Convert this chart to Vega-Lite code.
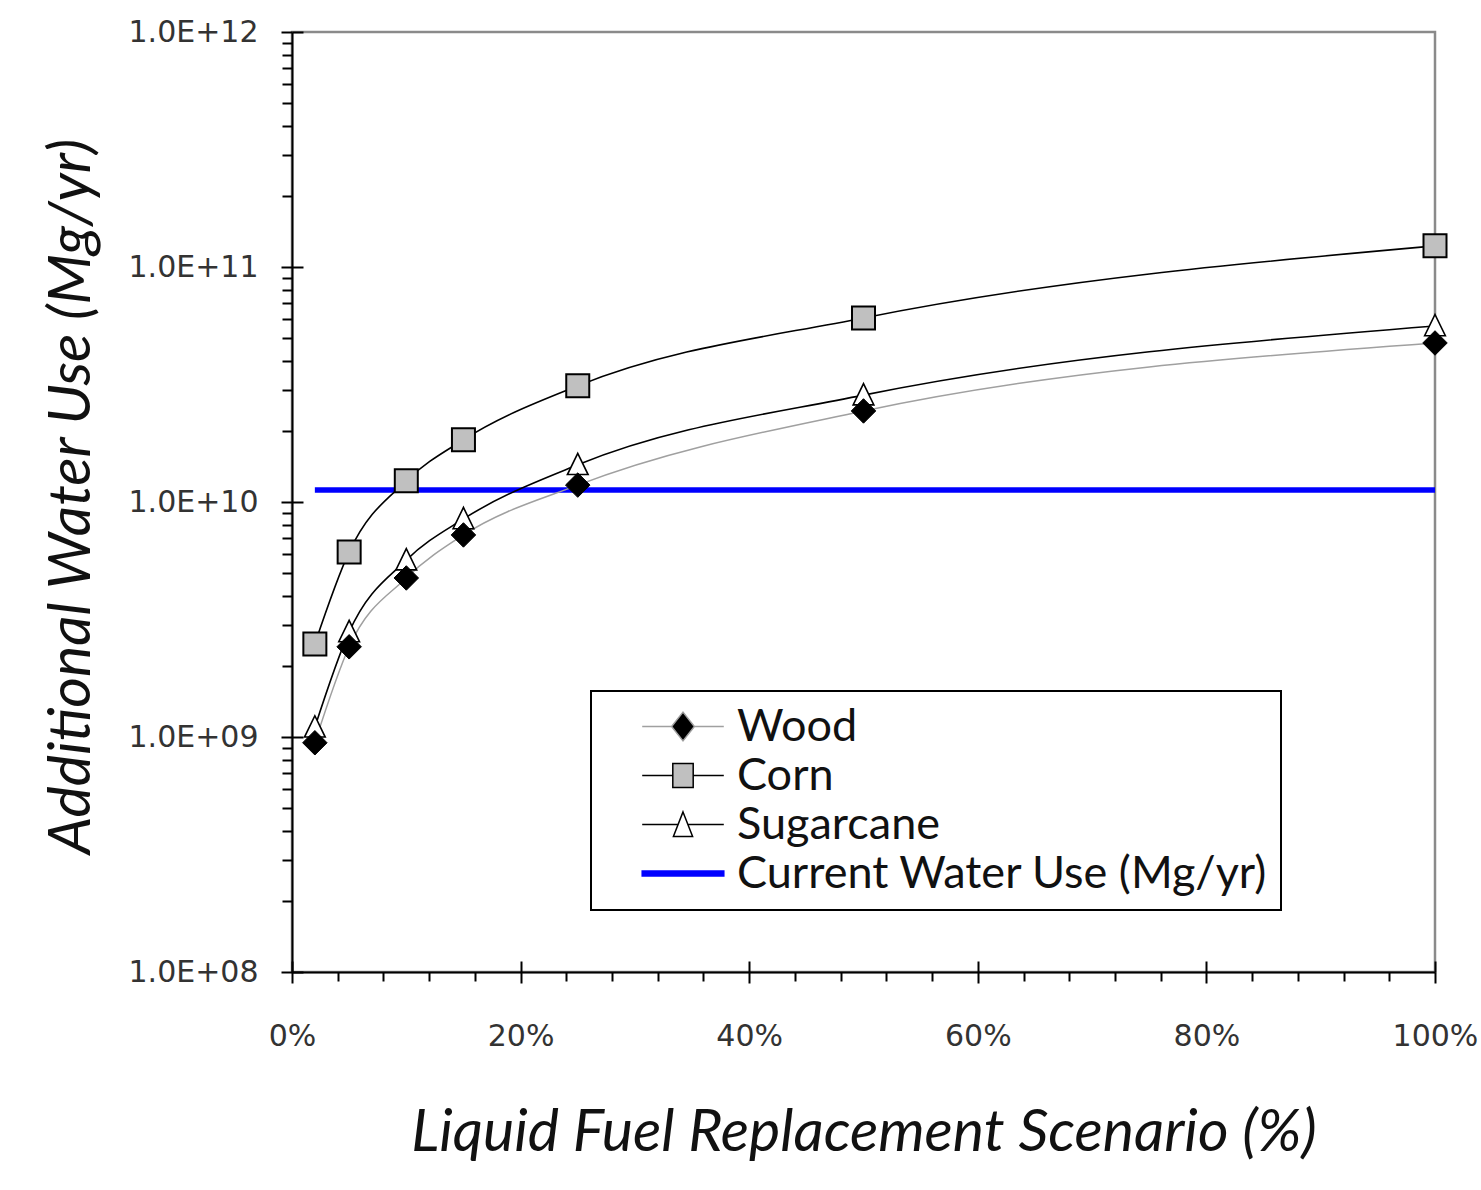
{
  "$schema": "https://vega.github.io/schema/vega-lite/v6.json",
  "width": 1143,
  "height": 940,
  "autosize": {"type": "none"},
  "padding": {"left": 292, "top": 32, "right": 46, "bottom": 218},
  "background": "white",
  "config": {
    "view": {"stroke": "#8a8a8a", "strokeWidth": 2.5},
    "axis": {"grid": false},
    "legend": {
      "orient": "none",
      "legendX": 299,
      "legendY": 659,
      "padding": 13,
      "strokeColor": "#000000",
      "strokeWidth": 2,
      "fillColor": "#ffffff",
      "symbolSize": 576,
      "symbolStrokeWidth": 1.5,
      "symbolOffset": 56.5,
      "labelOffset": 31.5,
      "rowPadding": 3,
      "labelFont": "Lato",
      "labelFontSize": 45,
      "labelColor": "#111111",
      "labelLimit": 1000
    }
  },
  "datasets": {
    "rows": [
      {"series": "Current Water Use (Mg/yr)", "x": 0.02, "y": 1.125e10},
      {"series": "Current Water Use (Mg/yr)", "x": 1.0, "y": 1.125e10},
      {"series": "Sugarcane", "x": 0.02, "y": 1.1e9},
      {"series": "Sugarcane", "x": 0.05, "y": 2.8e9},
      {"series": "Sugarcane", "x": 0.10, "y": 5.66e9},
      {"series": "Sugarcane", "x": 0.15, "y": 8.47e9},
      {"series": "Sugarcane", "x": 0.25, "y": 1.44e10},
      {"series": "Sugarcane", "x": 0.50, "y": 2.85e10},
      {"series": "Sugarcane", "x": 1.0, "y": 5.61e10},
      {"series": "Corn", "x": 0.02, "y": 2.49e9},
      {"series": "Corn", "x": 0.05, "y": 6.13e9},
      {"series": "Corn", "x": 0.10, "y": 1.23e10},
      {"series": "Corn", "x": 0.15, "y": 1.84e10},
      {"series": "Corn", "x": 0.25, "y": 3.12e10},
      {"series": "Corn", "x": 0.50, "y": 6.07e10},
      {"series": "Corn", "x": 1.0, "y": 1.23e11},
      {"series": "Wood", "x": 0.02, "y": 9.45e8},
      {"series": "Wood", "x": 0.05, "y": 2.42e9},
      {"series": "Wood", "x": 0.10, "y": 4.75e9},
      {"series": "Wood", "x": 0.15, "y": 7.24e9},
      {"series": "Wood", "x": 0.25, "y": 1.18e10},
      {"series": "Wood", "x": 0.50, "y": 2.44e10},
      {"series": "Wood", "x": 1.0, "y": 4.75e10}
    ]
  },
  "data": {"name": "rows"},
  "resolve": {"axis": {"x": "independent", "y": "independent"}},
  "layer": [
    {
      "transform": [{"filter": "datum.series === 'Current Water Use (Mg/yr)'"}],
      "mark": {"type": "line", "color": "#0000ff", "strokeWidth": 5.5},
      "encoding": {
        "x": {
          "field": "x", "type": "quantitative",
          "scale": {"domain": [0, 1], "nice": false, "zero": false},
          "axis": {
            "orient": "bottom",
            "values": [0, 0.2, 0.4, 0.6, 0.8, 1],
            "format": ".0%",
            "domain": true, "domainColor": "#000000", "domainWidth": 2,
            "ticks": true, "tickSize": 11, "tickWidth": 2, "tickColor": "#000000",
            "labelFont": "DejaVu Sans", "labelFontSize": 30, "labelColor": "#333333",
            "labelPadding": 38, "labelFlush": false, "labelOverlap": false,
            "title": "Liquid Fuel Replacement Scenario (%)",
            "titleFont": "Lato", "titleFontSize": 59, "titleFontStyle": "italic",
            "titleFontWeight": "normal", "titleColor": "#111111",
            "titleY": 178, "titleBaseline": "alphabetic"
          }
        },
        "y": {
          "field": "y", "type": "quantitative",
          "scale": {"type": "log", "domain": [1e8, 1e12], "nice": false},
          "axis": {
            "orient": "left",
            "values": [1e8, 1e9, 1e10, 1e11, 1e12],
            "labelExpr": "'1.0E+' + (datum.value < 1e10 ? '0' : '') + format(log(datum.value) / LN10, '.0f')",
            "domain": true, "domainColor": "#000000", "domainWidth": 2,
            "ticks": true, "tickSize": 11, "tickWidth": 2, "tickColor": "#000000",
            "labelFont": "DejaVu Sans", "labelFontSize": 30, "labelColor": "#333333",
            "labelPadding": 23, "labelFlush": false, "labelOverlap": false,
            "title": "Additional Water Use (Mg/yr)",
            "titleFont": "Lato", "titleFontSize": 59, "titleFontStyle": "italic",
            "titleFontWeight": "normal", "titleColor": "#111111",
            "titleAngle": -90, "titleX": -203, "titleY": 464,
            "titleAlign": "center", "titleBaseline": "alphabetic"
          }
        }
      }
    },
    {
      "transform": [{"filter": "datum.series === 'Wood'"}],
      "mark": {"type": "line", "color": "#a0a0a0", "strokeWidth": 1.5, "interpolate": "monotone"},
      "encoding": {
        "x": {
          "field": "x", "type": "quantitative",
          "scale": {"domain": [0, 1], "nice": false, "zero": false},
          "axis": {
            "orient": "bottom",
            "values": [0.04, 0.08, 0.12, 0.16, 0.24, 0.28, 0.32, 0.36, 0.44, 0.48, 0.52, 0.56, 0.64, 0.68, 0.72, 0.76, 0.84, 0.88, 0.92, 0.96],
            "domain": false, "labels": false, "title": null,
            "ticks": true, "tickSize": 9, "tickWidth": 2, "tickColor": "#000000"
          }
        },
        "y": {
          "field": "y", "type": "quantitative",
          "scale": {"type": "log", "domain": [1e8, 1e12], "nice": false},
          "axis": {
            "orient": "left",
            "values": [2e8, 3e8, 4e8, 5e8, 6e8, 7e8, 8e8, 9e8, 2e9, 3e9, 4e9, 5e9, 6e9, 7e9, 8e9, 9e9, 2e10, 3e10, 4e10, 5e10, 6e10, 7e10, 8e10, 9e10, 2e11, 3e11, 4e11, 5e11, 6e11, 7e11, 8e11, 9e11],
            "domain": false, "labels": false, "title": null,
            "ticks": true, "tickSize": 10, "tickWidth": 2, "tickColor": "#000000"
          }
        }
      }
    },
    {
      "transform": [{"filter": "datum.series === 'Corn' || datum.series === 'Sugarcane'"}],
      "mark": {"type": "line", "color": "#000000", "strokeWidth": 1.6, "interpolate": "monotone"},
      "encoding": {
        "detail": {"field": "series", "type": "nominal"},
        "x": {
          "field": "x", "type": "quantitative",
          "scale": {"domain": [0, 1], "nice": false, "zero": false},
          "axis": {
            "orient": "top", "offset": -940,
            "values": [0, 0.2, 0.4, 0.6, 0.8, 1],
            "domain": false, "labels": false, "title": null,
            "ticks": true, "tickSize": 11, "tickWidth": 2, "tickColor": "#000000"
          }
        },
        "y": {
          "field": "y", "type": "quantitative",
          "scale": {"type": "log", "domain": [1e8, 1e12], "nice": false},
          "axis": {
            "orient": "right", "offset": -1143,
            "values": [1e8, 1e9, 1e10, 1e11, 1e12],
            "domain": false, "labels": false, "title": null,
            "ticks": true, "tickSize": 11, "tickWidth": 2, "tickColor": "#000000"
          }
        }
      }
    },
    {
      "transform": [{"filter": "datum.series === 'Sugarcane'"}],
      "mark": {"type": "point", "shape": "M0,-1L0.9,0.85L-0.9,0.85Z", "size": 529, "filled": true, "fill": "#ffffff", "stroke": "#000000", "strokeWidth": 1.6, "opacity": 1},
      "encoding": {
        "x": {"field": "x", "type": "quantitative", "scale": {"domain": [0, 1], "nice": false, "zero": false}, "axis": null},
        "y": {"field": "y", "type": "quantitative", "scale": {"type": "log", "domain": [1e8, 1e12], "nice": false}, "axis": null}
      }
    },
    {
      "transform": [{"filter": "datum.series === 'Corn'"}],
      "mark": {"type": "point", "shape": "square", "size": 529, "filled": true, "fill": "#c0c0c0", "stroke": "#000000", "strokeWidth": 2, "opacity": 1},
      "encoding": {
        "x": {"field": "x", "type": "quantitative", "scale": {"domain": [0, 1], "nice": false, "zero": false}, "axis": null},
        "y": {"field": "y", "type": "quantitative", "scale": {"type": "log", "domain": [1e8, 1e12], "nice": false}, "axis": null}
      }
    },
    {
      "transform": [{"filter": "datum.series === 'Wood'"}],
      "mark": {"type": "point", "shape": "diamond", "size": 600, "filled": true, "fill": "#000000", "stroke": "#000000", "strokeWidth": 1, "opacity": 1},
      "encoding": {
        "x": {"field": "x", "type": "quantitative", "scale": {"domain": [0, 1], "nice": false, "zero": false}, "axis": null},
        "y": {"field": "y", "type": "quantitative", "scale": {"type": "log", "domain": [1e8, 1e12], "nice": false}, "axis": null}
      }
    },
    {
      "transform": [{"filter": "datum.x > 5"}],
      "mark": {"type": "point", "filled": true, "opacity": 1},
      "encoding": {
        "shape": {
          "field": "series", "type": "nominal",
          "scale": {
            "domain": ["Wood", "Corn", "Sugarcane", "Current Water Use (Mg/yr)"],
            "range": [
              "M-3.4,0H-0.95M0.95,0H3.4M0,-1.2L0.95,0L0,1.2L-0.95,0Z",
              "M-3.4,0H-0.85M0.85,0H3.4M-0.85,-1H0.85V1H-0.85Z",
              "M-3.4,0H-0.42M0.42,0H3.4M0,-1.05L0.8,1L-0.8,1Z",
              "M-3.4,-0.2H3.4V0.2H-3.4Z"
            ]
          },
          "legend": {"title": null}
        },
        "fill": {
          "field": "series", "type": "nominal",
          "scale": {
            "domain": ["Wood", "Corn", "Sugarcane", "Current Water Use (Mg/yr)"],
            "range": ["#000000", "#c0c0c0", "#ffffff", "#0000ff"]
          },
          "legend": {"title": null}
        },
        "stroke": {
          "field": "series", "type": "nominal",
          "scale": {
            "domain": ["Wood", "Corn", "Sugarcane", "Current Water Use (Mg/yr)"],
            "range": ["#a0a0a0", "#000000", "#000000", "#0000ff"]
          },
          "legend": {"title": null}
        }
      }
    }
  ]
}
